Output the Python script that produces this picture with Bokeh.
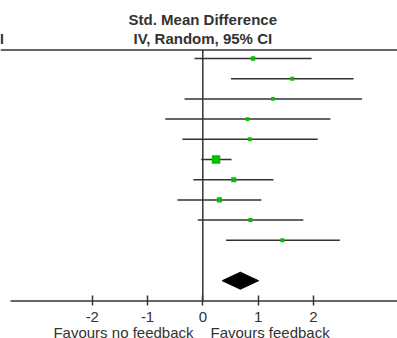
from bokeh.plotting import figure
from bokeh.models import Range1d, Label, FixedTicker, ColumnDataSource
from bokeh.embed import file_html
from bokeh.resources import INLINE
import math

# ---- data (std. mean difference, 95% CI) ----
estimates = [0.91, 1.62, 1.27, 0.81, 0.85, 0.24, 0.56, 0.30, 0.86, 1.44]
ci_lower = [-0.15, 0.51, -0.33, -0.68, -0.37, -0.03, -0.17, -0.46, -0.09, 0.42]
ci_upper = [1.97, 2.73, 2.88, 2.31, 2.08, 0.52, 1.28, 1.06, 1.82, 2.48]
weights = [7.0, 6.0, 5.0, 5.0, 6.0, 27.0, 9.5, 9.5, 6.0, 6.0]
pooled_est = 0.68
pooled_lo = 0.35
pooled_hi = 1.01
ticks = [-2, -1, 0, 1, 2]
tick_labels = ["-2", "-1", "0", "1", "2"]
title_lines = ["Std. Mean Difference", "IV, Random, 95% CI"]
favours_left = "Favours no feedback"
favours_right = "Favours feedback"

# ---- layout (y in screen-like units, 0 at top) ----
W, H = 397, 338
AXIS_Y = 300.5
HEADER_Y = 49.5
ROW0, ROW_STEP = 58.0, 20.2
TEXT = "#333333"
LINE = "#333333"
FONT = "Liberation Sans"

p = figure(width=W, height=H, output_backend="svg", toolbar_location=None,
           x_range=Range1d(-202.3 / 55.25, (W - 202.3) / 55.25),
           y_range=Range1d(H, 0),
           y_axis_location=None,
           min_border_left=0, min_border_right=0, min_border_top=0, min_border_bottom=0)
p.xgrid.visible = False
p.ygrid.visible = False
p.outline_line_color = None
p.background_fill_color = "white"
p.border_fill_color = "white"

n = len(estimates)
ys = [ROW0 + ROW_STEP * i for i in range(n)]
sizes = [1.64 * math.sqrt(w) for w in weights]
src = ColumnDataSource(dict(est=estimates, lo=ci_lower, hi=ci_upper, y=ys, size=sizes))

# header rule and zero line
x0, x1 = p.x_range.start, p.x_range.end
p.segment(x0=[x0], x1=[x1], y0=[HEADER_Y], y1=[HEADER_Y], line_color=LINE, line_width=1.5)
p.segment(x0=[0], x1=[0], y0=[HEADER_Y], y1=[AXIS_Y], line_color=LINE, line_width=1.5)
# axis line
p.segment(x0=[-3.48], x1=[x1], y0=[AXIS_Y], y1=[AXIS_Y], line_color=LINE, line_width=1.5)

# CIs and points
p.segment(x0="lo", x1="hi", y0="y", y1="y", source=src, line_color=LINE, line_width=1.5)
p.scatter(x="est", y="y", size="size", marker="square", source=src,
          fill_color="#00c000", line_color=None)

# pooled diamond
yd = ROW0 + ROW_STEP * (n + 1)
p.patch(x=[pooled_lo, pooled_est, pooled_hi, pooled_est],
        y=[yd, yd - 8.5, yd, yd + 8.5], fill_color="black", line_color="black")

# x axis ticks / labels, drawn at a fixed location inside the frame
ax = p.xaxis[0]
ax.fixed_location = AXIS_Y
ax.ticker = FixedTicker(ticks=ticks)
ax.major_label_overrides = {t: l for t, l in zip(ticks, tick_labels)}
ax.axis_line_color = None
ax.major_tick_in = 6
ax.major_tick_out = 4
ax.major_tick_line_color = LINE
ax.major_tick_line_width = 1.5
ax.minor_tick_line_color = None
ax.major_label_text_font = FONT
ax.major_label_text_font_size = "15px"
ax.major_label_text_color = TEXT
ax.major_label_standoff = 7

# title
for txt, yb in zip(title_lines, [19.0, 38.0]):
    p.add_layout(Label(x=0, y=yb, text=txt, text_align="center", text_baseline="alphabetic",
                       text_font=FONT, text_font_size="15px", text_font_style="bold",
                       text_color=TEXT))
p.add_layout(Label(x=3.5, x_units="screen", y=38.0, text="CI", text_align="right",
                   text_baseline="alphabetic", text_font=FONT, text_font_size="15px",
                   text_font_style="bold", text_color=TEXT))

# favours captions
p.add_layout(Label(x=-0.168, y=332.0, text=favours_left, text_align="right",
                   text_baseline="alphabetic", text_font=FONT, text_font_size="15px",
                   text_color=TEXT))
p.add_layout(Label(x=0.139, y=332.0, text=favours_right, text_align="left",
                   text_baseline="alphabetic", text_font=FONT, text_font_size="15px",
                   text_color=TEXT))

open("out.html", "w").write(file_html(p, INLINE))
